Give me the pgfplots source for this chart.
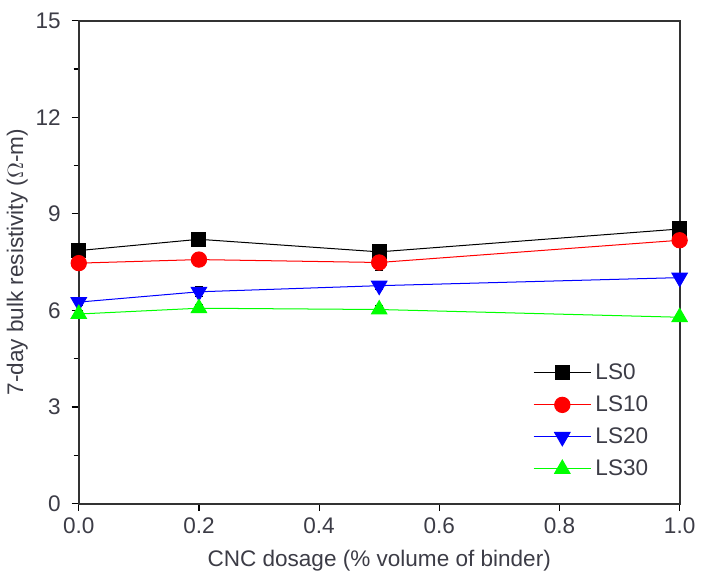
\documentclass[border=0pt]{standalone}
\usepackage{fontspec}
\setmainfont{Liberation Sans}
\usepackage{pgfplots}
\pgfplotsset{compat=1.18}
\definecolor{txt}{RGB}{60,60,70}
\definecolor{lgreen}{RGB}{0,255,0}
\begin{document}
\begin{tikzpicture}
\begin{axis}[
  scale only axis,
  width=298.5pt, height=240pt,
  xmin=0, xmax=1.0, ymin=0, ymax=15,
  xtick={0,0.2,0.4,0.6,0.8,1.0},
  ytick={0,3,6,9,12,15},
  minor ytick={1.5,4.5,7.5,10.5,13.5},
  xticklabel style={/pgf/number format/.cd,fixed,fixed zerofill,precision=1},
  /pgf/number format/assume math mode=true,
  tick align=outside,
  xtick pos=bottom, ytick pos=left,
  major tick length=3.5pt, minor tick length=2.5pt,
  every tick/.style={black, line width=0.6pt},
  axis line style={line width=0.9pt, black!80},
  font=\fontsize{11.2pt}{13pt}\selectfont,
  tick label style={txt},
  yticklabel style={xshift=-2pt},
  label style={txt},
  xlabel={CNC dosage (\% volume of binder)},
  ylabel={7-day bulk resistivity ($\Omega$-m)},
  xlabel style={yshift=-1pt},
  ylabel style={yshift=-3pt},
  legend style={draw=none, fill=none, at={(0.965,0.035)}, anchor=south east, font=\fontsize{11.2pt}{13pt}\selectfont, text=txt, row sep=2.6pt},
  legend cell align=left,
  legend image code/.code={\draw[#1, mark repeat=2, mark phase=2] plot coordinates {(0cm,0cm) (0.5cm,0cm) (1cm,0cm)};},
  error bars/error bar style={black, line width=0.5pt},
  error bars/error mark options={rotate=90, mark size=2pt, black, line width=0.5pt},
]
\addplot[black, line width=0.5pt, mark=square*, mark size=3.5pt, mark options={fill=black},
  error bars/.cd, y dir=both, y explicit]
  coordinates {(0,7.86) +- (0,0.12) (0.2,8.21) +- (0,0.1) (0.5,7.82) +- (0,0.1) (1.0,8.53) +- (0,0.12)};
\addlegendentry{LS0}
\addplot[red, line width=0.5pt, mark=*, mark size=3.8pt, mark options={fill=red},
  error bars/.cd, y dir=both, y explicit]
  coordinates {(0,7.47) +- (0,0.12) (0.2,7.58) +- (0,0.15) (0.5,7.49) +- (0,0.25) (1.0,8.18) +- (0,0.15)};
\addlegendentry{LS10}
\addplot[blue, line width=0.5pt, mark=triangle*, mark size=4.4pt, mark options={fill=blue, rotate=180},
  error bars/.cd, y dir=both, y explicit]
  coordinates {(0,6.26) +- (0,0.1) (0.2,6.58) +- (0,0.15) (0.5,6.77) +- (0,0.12) (1.0,7.02) +- (0,0.1)};
\addlegendentry{LS20}
\addplot[lgreen, line width=0.5pt, mark=triangle*, mark size=4.4pt, mark options={fill=lgreen},
  error bars/.cd, y dir=both, y explicit]
  coordinates {(0,5.89) +- (0,0.1) (0.2,6.07) +- (0,0.12) (0.5,6.03) +- (0,0.12) (1.0,5.79) +- (0,0.08)};
\addlegendentry{LS30}
\end{axis}
\path (current bounding box.north) ++(0,3pt);
\end{tikzpicture}
\end{document}
